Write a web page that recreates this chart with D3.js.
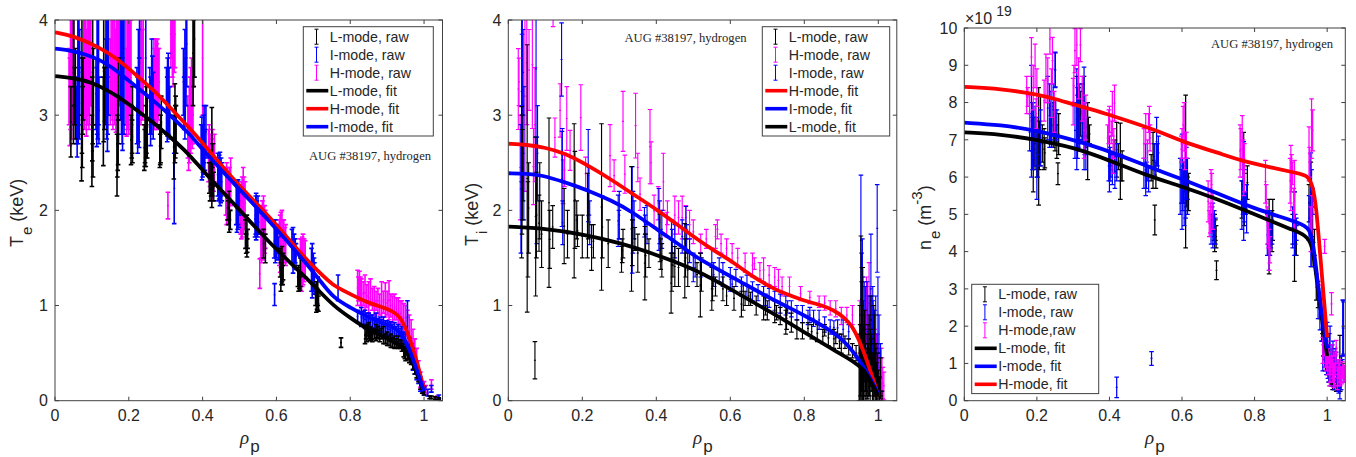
<!DOCTYPE html>
<html><head><meta charset="utf-8">
<script src="https://cdn.jsdelivr.net/npm/d3@7"></script>
<style>html,body{margin:0;padding:0;background:#fff}svg{display:block}text{font-family:"Liberation Sans",Arial,sans-serif;fill:#262626}</style>
</head><body><svg id="c" width="1356" height="457"></svg>
<script>
const xTicks=[0,.2,.4,.6,.8,1];
const keVTicks=[0,1,2,3,4];
const neTicks=[0,1,2,3,4,5,6,7,8,9,10];
const annotation="AUG #38197, hydrogen";
// raw error bars: [rho, low, high]
const teLRaw=[[.043,2.56,3.3],[.05,2.7,4.2],[.051,3.1,4.2],[.053,2.9,3.5],[.055,2.75,3.7],[.072,2.31,3],[.073,2.6,4.2],[.074,2.45,3.6],[.075,2.8,3.3],[.076,2.95,3.6],[.1,2.25,3],[.101,2.52,3.4],[.102,2.7,4.2],[.103,2.35,2.9],[.104,2.9,3.7],[.131,2.47,3.4],[.132,2.72,4.2],[.134,2.85,3.5],[.168,2.15,2.8],[.169,2.35,3],[.17,2.42,3.2],[.171,2.48,2.95],[.172,2.7,3.6],[.206,2.48,3],[.208,2.55,3.1],[.209,2.6,2.95],[.21,2.5,3.3],[.242,2.42,2.9],[.243,2.46,2.85],[.244,2.5,3],[.246,2.46,3.1],[.247,2.55,2.9],[.248,2.6,3.3],[.25,2.55,3.2],[.284,2.45,2.9],[.285,2.48,2.8],[.286,2.5,3],[.288,2.65,3.2],[.322,2.33,3],[.325,2.5,3.33],[.326,2.55,3.1],[.327,2.7,3.2],[.328,2.6,3.1],[.374,3.1,4.2],[.376,3.3,4],[.378,3.4,4.2],[.418,2.18,2.5],[.42,2.1,2.6],[.423,2.15,2.55],[.425,2.03,3.08],[.426,2.15,2.45],[.427,2.25,2.7],[.43,2.1,2.4],[.468,1.9,2.15],[.47,1.85,2.1],[.472,1.77,2.2],[.475,1.8,2],[.516,1.6,1.9],[.518,1.55,1.75],[.52,1.51,1.95],[.521,1.56,1.7],[.522,1.6,1.8],[.565,1.5,1.8],[.57,1.45,1.75],[.61,1.3,1.6],[.612,1.15,1.45],[.614,1.22,1.4],[.615,1.25,1.62],[.617,1.22,1.42],[.618,1.27,1.55],[.658,1.2,1.4],[.66,1.15,1.42],[.662,1.18,1.35],[.664,1.16,1.3],[.665,1.2,1.5],[.706,1,1.22],[.708,.93,1.25],[.71,.96,1.18],[.711,.95,1.12],[.712,1,1.3],[.714,.94,1.1],[.775,.56,.66],[.84,.6,.78],[.843,.65,.76],[.845,.62,.8],[.848,.68,.8],[.85,.65,.82],[.853,.63,.75],[.855,.66,.78],[.858,.64,.74],[.86,.62,.76],[.865,.65,.75],[.87,.63,.8],[.872,.66,.74],[.875,.65,.78],[.88,.62,.74],[.885,.65,.76],[.89,.6,.78],[.895,.6,.7],[.9,.58,.72],[.905,.58,.68],[.91,.56,.7],[.915,.56,.66],[.92,.55,.68],[.925,.56,.65],[.93,.55,.68],[.935,.55,.64],[.94,.52,.64],[.945,.46,.6],[.948,.44,.56],[.95,.42,.57],[.955,.43,.55],[.96,.4,.52],[.965,.38,.5],[.97,.33,.46],[.975,.28,.4],[.98,.24,.36],[.985,.2,.3],[.99,.12,.22],[.995,.08,.18],[1,.06,.14],[1.015,.02,.05],[1.02,.02,.05],[1.03,.01,.04],[1.04,.01,.03]];
const teIRaw=[[.058,2.7,3.3],[.06,2.56,3.4],[.062,2.8,4.2],[.063,2.7,4.2],[.065,2.9,4.2],[.066,2.75,3.5],[.067,3,3.9],[.111,2.85,3.6],[.113,2.67,3.5],[.114,2.8,4.2],[.116,2.75,4.2],[.118,2.9,4.2],[.119,2.7,3.4],[.137,2.9,3.8],[.138,3,4.2],[.14,2.75,4.2],[.142,2.62,3.4],[.143,2.8,4.2],[.145,3,4.2],[.178,2.95,4.2],[.18,2.8,4.2],[.182,2.7,4],[.183,2.63,3.6],[.185,2.9,4.2],[.187,2.8,4.2],[.222,2.7,3.5],[.224,2.6,3.4],[.226,2.72,3.9],[.228,2.66,3.6],[.229,3,4.2],[.246,3,4.2],[.257,2.8,3.5],[.259,2.68,3.4],[.262,2.8,3.8],[.264,2.95,3.62],[.266,2.75,3.45],[.302,2.8,3.5],[.304,2.72,3.4],[.305,2.78,3.6],[.307,2.8,3.65],[.309,2.98,3.5],[.311,2.75,3.3],[.323,1.86,2.6],[.348,3,3.7],[.35,2.85,3.4],[.352,2.75,3.9],[.353,2.9,3.6],[.355,3.1,4.2],[.357,3.3,4.2],[.396,2.45,2.9],[.398,2.32,2.98],[.4,2.35,2.9],[.401,2.4,2.9],[.403,2.38,3],[.404,2.5,3.1],[.406,2.42,2.85],[.409,2.55,3.1],[.441,2.15,2.6],[.443,2.1,2.55],[.445,2.12,2.58],[.447,2.05,2.61],[.449,2.08,2.5],[.45,2.15,2.55],[.452,2.1,2.5],[.491,1.85,2.3],[.493,1.77,2.3],[.495,1.8,2.25],[.496,1.85,2.32],[.498,1.82,2.2],[.499,1.95,2.25],[.542,1.72,2.1],[.544,1.75,2.15],[.545,1.69,2.18],[.547,1.75,2.1],[.549,1.72,2.05],[.55,1.8,2.15],[.552,1.75,2],[.595,1,1.23],[.594,1.5,1.85],[.597,1.45,1.9],[.6,1.5,1.85],[.603,1.55,1.8],[.605,1.48,1.72],[.642,1.45,1.8],[.645,1.34,1.82],[.648,1.4,1.75],[.651,1.45,1.7],[.653,1.38,1.65],[.695,1.15,1.6],[.697,1.08,1.65],[.7,1.15,1.55],[.702,1.12,1.5],[.703,1.2,1.45],[.767,1.05,1.32],[.82,.82,.95],[.83,.78,.98],[.835,.8,.94],[.84,.76,.95],[.845,.78,.92],[.85,.75,.92],[.855,.77,.9],[.86,.76,.9],[.865,.75,.88],[.87,.72,.92],[.875,.72,.86],[.88,.7,.88],[.885,.72,.85],[.89,.68,.88],[.895,.7,.84],[.9,.68,.84],[.905,.68,.82],[.91,.65,.83],[.915,.65,.8],[.92,.6,.82],[.925,.62,.78],[.93,.58,.8],[.935,.6,.76],[.94,.58,.78],[.945,.55,.72],[.955,.7,1.05],[.95,.5,.7],[.96,.45,.66],[.965,.4,.6],[.97,.32,.55],[.975,.28,.46],[.98,.22,.4],[.985,.18,.32],[.99,.1,.25],[1,.06,.15],[1.01,.05,.12],[1.02,.09,.16],[1.04,.02,.06]];
const teHRaw=[[.038,2.9,3.7],[.04,2.68,3.6],[.042,2.85,4.2],[.044,3,4.2],[.045,2.75,4],[.047,2.9,4.2],[.05,3.2,4.2],[.078,3,4.2],[.08,2.85,4.2],[.082,2.95,4.2],[.085,2.78,3.9],[.087,2.9,4.2],[.09,3,4.2],[.092,2.85,4.2],[.094,2.9,4.2],[.097,3.1,4.2],[.15,2.9,3.8],[.152,3,4.2],[.155,2.95,4.2],[.157,2.85,4.2],[.16,3,4.2],[.162,2.9,4.2],[.165,2.82,3.9],[.167,3,4.2],[.17,3.1,4.2],[.172,2.95,4.2],[.174,3.1,4.2],[.192,2.9,4.2],[.194,2.78,3.7],[.196,2.85,4.2],[.198,2.9,4.2],[.2,2.8,4.2],[.202,3,4.2],[.204,2.85,4.2],[.206,2.95,4],[.233,2.9,4.2],[.235,3,4.2],[.237,2.95,3.9],[.239,3,4.2],[.268,2.9,3.8],[.27,2.85,3.7],[.272,2.9,3.8],[.274,3,3.8],[.276,2.85,3.75],[.278,2.9,3.8],[.28,2.95,3.7],[.282,3,3.7],[.306,1.91,2.19],[.314,3.5,4.2],[.316,3.6,4.2],[.318,3.4,4.2],[.32,3.3,4.2],[.323,3.45,4.2],[.325,3.5,4.2],[.36,2.55,3.2],[.362,2.42,3.1],[.364,2.5,3.3],[.366,2.55,3.4],[.368,2.6,3.5],[.37,2.7,3.6],[.372,2.65,3.4],[.374,2.7,3.3],[.4,3,4.2],[.416,2.3,2.85],[.418,2.35,2.9],[.42,2.25,2.8],[.423,2.2,2.7],[.425,2.15,2.75],[.427,2.1,2.85],[.43,2.2,2.7],[.432,2.3,2.8],[.463,1.95,2.45],[.465,1.85,2.5],[.468,1.9,2.45],[.47,1.95,2.4],[.473,2,2.45],[.476,2.05,2.55],[.503,1.75,2.25],[.505,1.7,2.3],[.507,1.72,2.35],[.51,1.75,2.45],[.512,1.8,2.35],[.515,1.85,2.3],[.555,1.18,1.49],[.558,1.5,2],[.56,1.45,2.05],[.562,1.48,2.1],[.565,1.5,2.15],[.568,1.55,2.05],[.57,1.6,2],[.608,1.42,1.9],[.61,1.35,1.95],[.612,1.4,1.98],[.615,1.42,2],[.618,1.45,1.9],[.62,1.5,1.9],[.623,1.45,1.82],[.625,1.42,1.85],[.665,1.25,1.7],[.668,1.15,1.7],[.67,1.2,1.72],[.672,1.22,1.75],[.675,1.25,1.7],[.678,1.3,1.68],[.82,1,1.37],[.822,1.05,1.3],[.825,1.05,1.36],[.828,1,1.3],[.83,.98,1.28],[.835,1,1.25],[.84,.95,1.32],[.845,.98,1.22],[.85,.92,1.25],[.855,1,1.28],[.86,.95,1.18],[.865,.9,1.2],[.87,.95,1.15],[.875,.92,1.18],[.88,.9,1.12],[.885,.85,1.25],[.89,.92,1.15],[.895,.88,1.24],[.9,.9,1.15],[.905,.85,1.26],[.91,.88,1.12],[.915,.82,1.1],[.92,.85,1.12],[.925,.85,1.08],[.93,.8,1.08],[.935,.78,1.05],[.94,.7,1.05],[.945,.72,1.02],[.95,.68,1],[.955,.62,.95],[.96,.55,.9],[.965,.5,.85],[.97,.45,.75],[.975,.38,.65],[.98,.3,.55],[.985,.22,.42],[.99,.14,.3],[1,.08,.2],[1.005,.07,.16],[1.02,.12,.22],[1.035,.02,.05]];
const tiLRaw=[[.036,1.5,3.09],[.037,1.75,3],[.038,1.9,2.85],[.04,2.1,2.7],[.051,.93,3.74],[.053,1.3,2.3],[.055,1.55,2.5],[.074,1.1,2.77],[.076,1.5,2.4],[.083,1.57,2.16],[.085,1.7,2.5],[.09,1.4,2.1],[.11,1.19,2.97],[.112,1.39,2],[.12,1.6,2.05],[.151,1.44,2.23],[.16,1.5,2],[.178,1.29,2.91],[.18,1.6,2.62],[.185,1.7,2.1],[.187,1.62,1.95],[.2,1.5,1.95],[.214,1.5,2.39],[.216,1.7,2.2],[.225,1.37,1.85],[.23,1.5,1.85],[.252,1.16,2.91],[.254,1.5,2.15],[.27,1.4,1.9],[.306,1.35,1.62],[.308,1.45,1.7],[.31,1.5,1.8],[.333,1.15,2.46],[.335,1.42,1.9],[.342,1.58,1.82],[.35,1.35,1.75],[.369,1.06,1.83],[.371,1.3,1.75],[.38,1.4,1.7],[.41,1.46,1.96],[.412,1.38,1.7],[.415,1.3,1.65],[.44,.92,1.55],[.442,1.15,1.7],[.445,1.3,1.55],[.45,1.2,1.62],[.46,1.2,1.6],[.477,1.08,1.86],[.479,1.3,1.7],[.485,1.2,1.55],[.51,1.2,1.45],[.519,.88,1.55],[.522,1.15,1.5],[.55,.95,1.4],[.552,1.05,1.3],[.56,1.1,1.3],[.58,1.05,1.3],[.59,1,1.2],[.61,.95,1.2],[.63,.88,1.15],[.635,.95,1.22],[.64,1,1.15],[.65,1,1.2],[.655,1,1.14],[.67,.9,1.1],[.69,.85,1.1],[.695,.9,1.08],[.7,.85,1.05],[.72,.82,1.05],[.725,.85,1],[.735,.8,.98],[.75,.7,.95],[.752,.75,.98],[.765,.72,.92],[.78,.65,.85],[.795,.65,.82],[.81,.7,.82],[.82,.65,.8],[.835,.62,.8],[.85,.6,.75],[.855,.68,.8],[.865,.58,.74],[.88,.55,.75],[.885,.6,.72],[.895,.55,.7],[.9,.5,.7],[.91,.55,.68],[.92,.48,.65],[.93,.45,.6],[.94,.42,.58],[.072,.23,.62],[.948,0,.7],[.95,0,1],[.951,0,.8],[.952,.05,.65],[.953,.4,1.73],[.954,0,.55],[.955,.1,1.25],[.956,.15,.9],[.957,0,.6],[.958,.6,1.4],[.959,.1,.8],[.96,0,.45],[.961,.05,.7],[.962,.2,.75],[.963,.3,.95],[.964,0,.6],[.965,.1,.6],[.966,.1,.5],[.967,0,.55],[.968,.05,.42],[.97,.02,.7],[.972,0,.8],[.974,.05,.6],[.975,.3,.9],[.976,.05,.55],[.978,0,.4],[.979,.15,.75],[.98,.6,1.1],[.981,.1,.65],[.982,.2,.7],[.984,0,.45],[.985,.1,.5],[.986,0,.5],[.988,0,1],[.989,.05,.6],[.99,.35,.9],[.991,.05,.4],[.992,0,.35],[.993,.1,.55],[.994,.2,.6],[.995,0,.4],[.996,.05,.3],[.997,0,.32],[.998,.1,.5],[1,0,.32],[1.001,.02,.25],[1.003,0,.25],[1.006,.02,.45],[1.01,0,.1]];
const tiIRaw=[[.034,1.55,2.9],[.036,2.3,4.2],[.037,3.1,3.85],[.038,2.7,4.2],[.04,3,3.9],[.042,1.9,3.3],[.075,2.77,4.2],[.077,1.65,2.77],[.079,2.1,3.1],[.144,3.2,3.97],[.145,1.83,2.83],[.146,2.3,2.86],[.147,1.64,2.1],[.216,1.88,2.85],[.218,1.95,2.45],[.22,1.64,2.1],[.297,1.62,2.16],[.299,1.7,2],[.3,1.7,2.2],[.335,1.34,2.46],[.337,1.55,2.2],[.34,1.7,2.1],[.368,1.72,2.03],[.37,1.75,1.95],[.375,1.65,2.05],[.407,1.58,2.23],[.409,1.65,2.1],[.415,1.6,2],[.441,1.47,1.9],[.443,1.55,1.8],[.45,1.5,1.85],[.47,1.55,1.9],[.48,1.58,2.04],[.482,1.55,1.85],[.49,1.45,1.7],[.5,1.25,1.55],[.505,1.3,1.5],[.52,1.3,1.55],[.55,1.3,1.6],[.555,1.2,1.45],[.57,1.25,1.5],[.58,1.2,1.45],[.6,1.15,1.4],[.605,1.15,1.3],[.615,1.2,1.38],[.63,1.1,1.3],[.645,1.08,1.32],[.66,1.05,1.25],[.675,1.05,1.22],[.69,1,1.2],[.695,1,1.12],[.705,.98,1.18],[.72,.95,1.15],[.735,.92,1.12],[.75,.9,1.1],[.755,.92,1.05],[.765,.88,1.05],[.78,.85,1],[.795,.82,1],[.81,.8,.95],[.815,.82,.98],[.825,.78,.95],[.84,.75,.95],[.855,.72,.88],[.87,.7,.85],[.88,.7,.84],[.89,.68,.85],[.905,.65,.85],[.92,.65,.8],[.953,1,2.37],[.955,.7,1.55],[.957,.9,1.7],[.958,.5,1.3],[.96,.2,1.05],[.962,.5,1.25],[.965,.3,1.2],[.97,.2,1.25],[.975,.3,1.1],[.98,.6,1.75],[.983,.4,1.1],[.985,.5,1.2],[.986,.3,1.05],[.99,.2,.95],[.993,.3,1.1],[.997,1.35,2.27],[.999,.5,1.3],[1.002,.1,.9],[1.006,.1,.6]];
const tiHRaw=[[.027,2.85,3.7],[.029,3.1,3.6],[.032,1.9,3],[.045,2.2,4.2],[.05,2.9,4.2],[.056,3.05,3.9],[.065,2.86,4.2],[.068,2.06,2.86],[.072,2.3,3.5],[.121,3.93,4.2],[.126,2.56,2.97],[.14,2.77,3.33],[.148,2.07,2.53],[.152,2.25,2.6],[.158,2.63,3.3],[.167,2.42,2.84],[.196,2.63,3.32],[.209,2.21,2.56],[.275,2.25,2.9],[.286,2.2,2.53],[.31,2.62,3.25],[.315,2.18,2.58],[.344,2.55,3.23],[.35,2.3,2.6],[.356,2,2.34],[.383,2.28,3.06],[.386,2.28,2.72],[.394,1.83,2.16],[.405,1.9,2.25],[.419,2,2.6],[.428,1.72,1.98],[.43,1.85,2.1],[.45,1.75,2.15],[.46,1.75,2.1],[.47,1.7,2.15],[.48,1.8,2.05],[.49,1.7,2],[.5,1.65,1.9],[.52,1.55,1.75],[.535,1.6,1.8],[.56,1.6,1.85],[.565,1.7,1.9],[.575,1.55,1.75],[.59,1.5,1.7],[.605,1.45,1.65],[.62,1.4,1.6],[.64,1.35,1.55],[.66,1.3,1.55],[.665,1.38,1.5],[.68,1.28,1.45],[.69,1.25,1.5],[.705,1.22,1.42],[.72,1.2,1.4],[.73,1.15,1.38],[.74,1.1,1.3],[.76,1.1,1.3],[.79,1.05,1.2],[.815,1.02,1.15],[.84,.98,1.1],[.855,.95,1.1],[.87,.9,1.05],[.885,.88,1.05],[.9,.8,.98],[.915,.82,.98],[.93,.8,1],[.95,.5,1.05],[.955,.6,1.4],[.958,.5,1.2],[.96,.3,.9],[.965,.2,.8],[.968,.6,1.3],[.97,.5,1.1],[.975,.6,1.45],[.978,.3,1.2],[.98,.3,1],[.985,.2,.85],[.988,.3,.95],[.99,.1,.75],[.995,.1,.7],[.998,.15,.7],[1,.05,.6],[1.005,.02,.55],[1.008,.02,.55],[1.01,.02,.45],[1.012,.02,.35],[1.015,.01,.3]];
const neLRaw=[[.19,5.6,8],[.192,6.3,7.2],[.195,6.2,7.6],[.2,6,7.3],[.205,5.25,8.4],[.207,6.2,7.5],[.21,6.3,8.2],[.215,6.4,7.4],[.22,6.2,7.3],[.222,6.25,7.05],[.245,6.8,8],[.248,6.9,7.6],[.25,6.7,7.8],[.255,6.5,7.4],[.26,6.6,7.7],[.258,5.8,6.38],[.31,6.8,8.7],[.312,7,8.2],[.315,6.9,8.4],[.32,7.1,8.3],[.325,7,8.5],[.33,7,8.7],[.332,7.1,8],[.335,6.8,7.9],[.34,5.93,8],[.342,6.9,7.6],[.345,6.9,7.4],[.415,6.1,7],[.42,6,7.47],[.425,6.2,6.9],[.43,5.4,7.45],[.432,5.9,6.6],[.435,5.9,6.7],[.515,5.9,6.6],[.52,5.7,7.2],[.523,6.2,6.9],[.525,4.45,5.25],[.528,5.7,6.4],[.605,5.3,6.4],[.608,5.6,6.2],[.61,4.1,8.2],[.612,5.2,6.5],[.615,5.4,6],[.618,5.1,6.1],[.688,4.3,4.8],[.69,4,5],[.692,4.3,4.85],[.694,4.1,4.7],[.695,3.25,3.75],[.765,4.9,5.9],[.77,5.5,7.2],[.771,5.1,5.8],[.772,4.7,6.1],[.775,5,5.6],[.78,5.4,6.3],[.838,4.2,5],[.84,3.4,5.4],[.842,3.9,5],[.845,4.2,4.8],[.848,4,5.1],[.85,4.3,5.4],[.905,4.2,5],[.91,3.2,5.6],[.912,3.9,4.8],[.915,3.9,4.7],[.95,4.8,5.8],[.955,4.3,6.4],[.958,3.6,5.2],[.96,4.4,5.6],[.965,3.9,4.6],[.97,2.7,3.4],[.975,2.5,3.2],[.98,2.2,2.9],[.985,1.6,2.3],[.987,1.8,2.5],[.99,1.2,1.9],[.992,1.1,1.6],[.995,.8,1.6],[1,.9,1.5],[1.002,.7,1.2],[1.005,.5,1.2],[1.01,.4,1.1],[1.012,.8,1.3],[1.015,.3,.9],[1.018,.5,1.2],[1.02,.3,.7],[1.025,.25,.6],[1.028,.3,.8],[1.03,.25,.55],[1.035,.6,1.75],[1.036,.25,.5],[1.038,.3,.65]];
const neIRaw=[[.18,6.7,7.7],[.185,6,9],[.187,6.7,8],[.188,6.2,7.6],[.19,6.5,8],[.195,6.3,7.9],[.2,5.4,7.6],[.202,6,7.2],[.21,6.3,7.8],[.23,7,8.7],[.235,6.8,8.5],[.237,6.9,8],[.239,7,8.3],[.24,6.8,7.9],[.245,7.1,8.5],[.25,8.4,9.35],[.251,8.42,9.33],[.252,6.9,8.1],[.255,7,7.8],[.305,6.5,8],[.31,6.2,8.9],[.312,6.5,8.4],[.314,6.8,8.1],[.318,6.7,8.5],[.325,7,7.9],[.33,6.2,8.95],[.332,6.6,8],[.335,6.2,7.6],[.398,5.9,6.7],[.4,5.6,7.1],[.402,5.9,6.8],[.404,6,6.6],[.408,5.8,6.6],[.415,5.7,6.6],[.42,5.9,6.9],[.495,5.7,6.5],[.5,5.5,6.9],[.502,5.7,6.4],[.504,5.9,6.3],[.508,5.6,6.3],[.525,6,6.9],[.53,6.3,7.6],[.532,6.3,6.9],[.535,6.2,7.1],[.595,5,6.5],[.598,5.3,6.2],[.6,4.6,7.15],[.602,5.1,6.5],[.604,5.3,6.3],[.606,4.7,6.2],[.61,4.9,6.2],[.612,5.4,6.8],[.615,5,6.5],[.68,4.2,5],[.683,4.5,5.2],[.685,4.1,5.3],[.687,4.4,5],[.689,4.2,5.1],[.692,4.2,4.9],[.765,4.6,5.9],[.768,5,6.5],[.77,4.3,6.95],[.772,4.8,6.2],[.774,5,5.6],[.778,4.5,5.8],[.835,3.9,5],[.84,3.5,5.1],[.842,3.9,4.8],[.845,4.1,4.8],[.848,4.2,5],[.905,4.1,5.2],[.91,3.9,5.6],[.912,4.2,5],[.915,4.3,4.9],[.95,4.3,5.5],[.955,3.6,6.65],[.957,4.6,6.2],[.96,5,5.7],[.42,.08,.63],[.516,.95,1.32],[.975,2.2,3],[.98,1.9,2.6],[.985,1.6,2.2],[.988,.8,1.6],[.99,1.2,2],[.993,.9,1.9],[.995,1.1,1.8],[.998,.7,1.7],[1,1,2.1],[1.002,.6,1.4],[1.004,.5,1.5],[1.006,1,1.8],[1.008,.8,2],[1.01,.5,1.2],[1.012,.4,1.4],[1.014,.8,1.5],[1.016,.6,1.6],[1.018,.4,1],[1.02,.3,1.3],[1.022,.7,1.4],[1.025,.5,1.3],[1.028,.4,1],[1.03,.25,1.1],[1.032,.2,.9],[1.035,.05,.7],[1.038,.3,1],[1.04,.5,1.2],[1.042,.6,1.1],[1.043,1.2,2.7],[1.044,1.2,2.7],[1.045,1.25,2.65]];
const neHRaw=[[.172,7.7,8.7],[.175,7.9,8.4],[.18,7.3,8.2],[.185,8.7,9.74],[.19,7.8,9],[.195,8.4,9.57],[.198,7.3,8.1],[.2,7.9,8.9],[.22,7.5,8.6],[.225,8,9.3],[.23,8,9.2],[.236,9.3,10.1],[.24,7.6,8.9],[.243,8.5,9.75],[.248,7.2,8.3],[.3,7.4,8.65],[.302,7.9,9],[.305,8.8,9.98],[.31,9,10.1],[.315,8.1,9.2],[.32,9.1,9.98],[.325,7.5,8.7],[.33,6.5,8],[.335,7,8.2],[.395,6.7,7.4],[.398,6.9,7.8],[.4,7.2,7.9],[.405,6.9,7.5],[.408,7.1,8.3],[.41,6.1,7],[.412,6.5,7.3],[.414,7.5,8.47],[.495,6.5,7.3],[.5,6.9,7.7],[.505,6.3,7],[.508,7.2,7.7],[.51,6.9,7.9],[.512,6.7,7.4],[.598,6.4,7.1],[.6,6.5,7.3],[.603,6.9,7.9],[.606,6.7,8],[.608,6.2,7.2],[.612,6.5,7.2],[.672,4.8,5.9],[.675,4.4,5.1],[.678,4.5,5.3],[.68,5.2,6.2],[.682,5.5,6.1],[.685,4.6,5.6],[.76,6,7.4],[.762,6.2,7.3],[.766,6.5,7.65],[.768,6,7],[.77,5.5,6.4],[.772,5.6,6.9],[.83,5.3,6.45],[.832,4.9,5.8],[.835,4.2,5.2],[.838,4.1,4.8],[.84,3.5,4.6],[.842,3.7,4.4],[.898,5.3,6.5],[.9,5.1,6.85],[.902,5.6,6.6],[.905,5.8,6.4],[.908,4.8,5.7],[.91,4.6,6.45],[.95,5.9,7.35],[.952,6,6.8],[.957,6.5,8.1],[.96,6.7,7.8],[.955,4,5.2],[.958,4.3,5.5],[.993,3.95,4.33],[.985,2.5,3.1],[1.012,2.3,2.9],[.988,1,1.7],[.99,1.5,2],[.992,1.2,1.9],[.995,.9,1.7],[.998,.8,1.5],[1,.9,1.6],[1.002,.7,1.3],[1.003,1,1.4],[1.006,.4,1.3],[1.008,.5,1.1],[1.01,.7,1.2],[1.013,.9,1.5],[1.014,.5,1.1],[1.016,.6,1.2],[1.018,.35,1],[1.02,.4,1],[1.022,.7,1.3],[1.024,.8,1.2],[1.025,1.25,1.62],[1.028,.3,.9],[1.03,.4,1],[1.032,.6,1.1],[1.034,.5,1],[1.036,.4,.9],[1.04,.45,.9],[1.042,.6,1.05],[1.045,.5,1],[1.048,.5,.95]];
// fitted profiles: [rho, value]
const teLFit=[[0,3.41],[.05,3.39],[.1,3.35],[.167,3.21],[.226,3.04],[.271,2.91],[.312,2.77],[.361,2.6],[.402,2.41],[.492,2.04],[.583,1.65],[.673,1.32],[.719,1.14],[.754,1],[.8,.87],[.85,.74],[.9,.66],[.94,.57],[.96,.48],[.98,.3],[1,.08]];
const teHFit=[[0,3.87],[.045,3.84],[.117,3.72],[.167,3.6],[.226,3.4],[.271,3.25],[.312,3.08],[.361,2.88],[.402,2.7],[.492,2.28],[.583,1.93],[.673,1.51],[.719,1.34],[.75,1.22],[.79,1.14],[.845,1.03],[.9,.97],[.935,.9],[.96,.68],[.98,.42],[1,.12]];
const teIFit=[[0,3.7],[.045,3.68],[.117,3.6],[.167,3.47],[.226,3.28],[.271,3.14],[.312,3],[.361,2.82],[.402,2.63],[.492,2.25],[.583,1.88],[.673,1.48],[.719,1.26],[.754,1.08],[.8,.98],[.85,.87],[.9,.8],[.935,.74],[.96,.55],[.98,.33],[1,.1]];
const tiHFit=[[0,2.7],[.05,2.69],[.1,2.66],[.153,2.6],[.216,2.47],[.28,2.32],[.333,2.18],[.405,2],[.477,1.79],[.55,1.59],[.614,1.44],[.65,1.33],[.71,1.19],[.75,1.12],[.8,1.05],[.85,1],[.88,.95],[.91,.87],[.93,.78],[.95,.62],[.97,.42],[1,.05]];
const tiIFit=[[0,2.39],[.05,2.385],[.09,2.37],[.15,2.3],[.216,2.21],[.28,2.1],[.333,1.99],[.405,1.79],[.477,1.6],[.513,1.49],[.614,1.28],[.71,1.07],[.8,.9],[.88,.72],[.915,.6],[.95,.42],[.97,.3],[1,.07]];
const tiLFit=[[0,1.83],[.1,1.81],[.2,1.75],[.3,1.66],[.396,1.54],[.513,1.37],[.614,1.14],[.71,.93],[.8,.72],[.88,.53],[.935,.41],[.96,.33],[.98,.2],[1,.05]];
const neHFit=[[0,8.42],[.1,8.37],[.2,8.22],[.25,8.1],[.3,7.95],[.35,7.82],[.4,7.67],[.53,7.26],[.6,6.95],[.7,6.65],[.77,6.42],[.85,6.25],[.92,6.1],[.945,6.05],[.96,5.8],[.97,5.2],[.98,4],[1,1.7]];
const neIFit=[[0,7.46],[.1,7.4],[.2,7.25],[.3,7],[.4,6.7],[.5,6.3],[.6,5.95],[.7,5.55],[.8,5.15],[.9,4.85],[.94,4.7],[.96,4.5],[.975,3],[1,1.4]];
const neLFit=[[0,7.2],[.1,7.15],[.2,7],[.3,6.8],[.4,6.45],[.5,6.05],[.6,5.75],[.7,5.4],[.8,5],[.85,4.8],[.9,4.6],[.94,4.45],[.96,4.2],[.97,3.3],[1,1.2]];
const K="#000000",B="#0000ff",M="#ff00ff",R="#ff0000",AX="#404040";

const panels=[
 {x:[55,442.5],y:[400.7,20],ymax:4,yt:keVTicks,bw:1.6,raws:[[teHRaw,M],[teIRaw,B],[teLRaw,K]],fits:[[teLFit,K],[teHFit,R],[teIFit,B]],
  leg:{x:303.3,w:130,y:26.7,rows:[["L-mode, raw",K,0],["I-mode, raw",B,0],["H-mode, raw",M,0],["L-mode, fit",K,1],["H-mode, fit",R,1],["I-mode, fit",B,1]]},
  ann:[370,160],yl:{x:23,y:247,main:"T",sub:"e",rest:" (keV)"},xl:240},
 {x:[508.3,896.8],y:[400.7,20],ymax:4,yt:keVTicks,bw:1.15,raws:[[tiHRaw,M],[tiIRaw,B],[tiLRaw,K]],fits:[[tiHFit,R],[tiIFit,B],[tiLFit,K]],
  leg:{x:762.3,w:127.4,y:26.7,rows:[["L-mode, raw",K,0],["H-mode, raw",M,0],["I-mode, raw",B,0],["H-mode, fit",R,1],["I-mode, fit",B,1],["L-mode, fit",K,1]]},
  ann:[685.5,41.7],yl:{x:478,y:246,main:"T",sub:"i",rest:" (keV)"},xl:693},
 {x:[964.3,1345.3],y:[400.7,28],ymax:10,yt:neTicks,bw:1.25,raws:[[neLRaw,K],[neIRaw,B],[neHRaw,M]],fits:[[neLFit,K],[neIFit,B],[neHFit,R]],
  leg:{x:971.7,w:127,y:284.3,rows:[["L-mode, raw",K,0],["I-mode, raw",B,0],["H-mode,raw",M,0],["L-mode, fit",K,1],["I-mode, fit",B,1],["H-mode, fit",R,1]]},
  ann:[1272,48],yl:{x:931,y:250,main:"n",sub:"e",rest:" (m",sup:"-3",end:")"},xl:1145}
];
const svg=d3.select("#c");
panels.forEach((p,pi)=>{
  const x=d3.scaleLinear([0,1.05],p.x), y=d3.scaleLinear([0,p.ymax],p.y);
  const g=svg.append("g");
  svg.append("defs").append("clipPath").attr("id","cp"+pi).append("rect").attr("x",p.x[0]).attr("y",p.y[1]).attr("width",p.x[1]-p.x[0]).attr("height",p.y[0]-p.y[1]);
  const plot=g.append("g").attr("clip-path",`url(#cp${pi})`);
  p.raws.forEach(([data,col])=>{
    const s=plot.append("g").attr("stroke",col).attr("fill","none").attr("stroke-width",p.bw);
    const bars=s.selectAll("g").data(data).join("g");
    bars.append("path").attr("d",d=>{const X=x(d[0]);return `M${X},${y(d[1])}V${y(d[2])}M${X-2.3},${y(d[1])}H${X+2.3}M${X-2.3},${y(d[2])}H${X+2.3}M${X-1},${y((d[1]+d[2])/2)}H${X+1}`;});
  });
  const line=d3.line().x(d=>x(d[0])).y(d=>y(d[1])).curve(d3.curveBasis);
  p.fits.forEach(([data,col])=>{
    plot.append("path").datum(data).attr("d",line).attr("fill","none").attr("stroke",col).attr("stroke-width",3.8).attr("stroke-linejoin","round");
  });
  // frame
  g.append("rect").attr("x",p.x[0]).attr("y",p.y[1]).attr("width",p.x[1]-p.x[0]).attr("height",p.y[0]-p.y[1]).attr("fill","none").attr("stroke",AX).attr("stroke-width",1);
  const fmt=d=>String(d);
  const ax=g.append("g").attr("stroke",AX).attr("stroke-width",1);
  xTicks.forEach(t=>{const X=x(t);
    ax.append("line").attr("x1",X).attr("x2",X).attr("y1",p.y[0]).attr("y2",p.y[0]-4);
    ax.append("line").attr("x1",X).attr("x2",X).attr("y1",p.y[1]).attr("y2",p.y[1]+4);
    g.append("text").attr("x",X).attr("y",421).attr("text-anchor","middle").attr("font-size",16).text(fmt(t));
  });
  p.yt.forEach(t=>{const Y=y(t);
    ax.append("line").attr("x1",p.x[0]).attr("x2",p.x[0]+4).attr("y1",Y).attr("y2",Y);
    ax.append("line").attr("x1",p.x[1]).attr("x2",p.x[1]-4).attr("y1",Y).attr("y2",Y);
    g.append("text").attr("x",p.x[0]-7).attr("y",Y+5.7).attr("text-anchor","end").attr("font-size",16).text(fmt(t));
  });
  // x label
  const xl=g.append("text").attr("x",p.xl).attr("y",444).attr("font-size",19);
  xl.append("tspan").attr("font-style","italic").style("font-family","'Liberation Serif',serif").text("ρ");
  xl.append("tspan").attr("dy",8).attr("dx",1).attr("font-size",17).text("p");
  // y label
  const yl=g.append("text").attr("transform",`translate(${p.yl.x},${p.yl.y}) rotate(-90)`).attr("font-size",18);
  yl.append("tspan").text(p.yl.main);
  yl.append("tspan").attr("dy",9).attr("dx",1).attr("font-size",15).text(p.yl.sub);
  yl.append("tspan").attr("dy",-9).text(p.yl.rest);
  if(p.yl.sup){
    yl.append("tspan").attr("dy",-9).attr("font-size",15).text(p.yl.sup);
    yl.append("tspan").attr("dy",9).text(p.yl.end);
  }
  // annotation
  g.append("text").attr("x",p.ann[0]).attr("y",p.ann[1]).attr("text-anchor","middle").style("font-family","'Liberation Serif',serif").attr("font-size",12.6).text(annotation);
  // legend
  const L=p.leg,lg=g.append("g");
  lg.append("rect").attr("x",L.x).attr("y",L.y).attr("width",L.w).attr("height",109.3).attr("fill","#fff").attr("stroke",AX).attr("stroke-width",1);
  L.rows.forEach((r,i)=>{
    const ry=L.y+10+i*18, tx=L.x+26.5, mx=L.x+13.2;
    if(r[2]) lg.append("line").attr("x1",L.x+3).attr("x2",L.x+25).attr("y1",ry).attr("y2",ry).attr("stroke",r[1]).attr("stroke-width",3.6);
    else lg.append("path").attr("d",`M${mx},${ry-7.5}V${ry+7.5}M${mx-2},${ry-7.5}H${mx+2}M${mx-2},${ry+7.5}H${mx+2}`).attr("stroke",r[1]).attr("fill","none");
    lg.append("text").attr("x",tx).attr("y",ry+5).attr("font-size",14.2).text(r[0]);
  });
});
// multiplier for density panel
const mult=svg.append("text").attr("x",965).attr("y",24).attr("font-size",16);
mult.append("tspan").text("×10");
mult.append("tspan").attr("dy",-8).attr("dx",4).attr("font-size",14).text("19");
</script></body></html>
